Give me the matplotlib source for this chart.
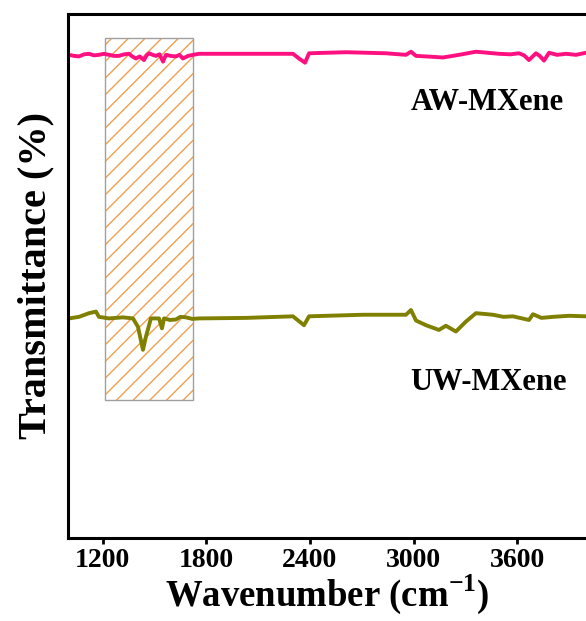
import matplotlib
matplotlib.use("Agg")
import matplotlib.pyplot as plt
from matplotlib.patches import Rectangle

# wavenumber (cm-1) / transmittance (%)
aw_wn = [1006, 1035, 1064, 1093, 1122, 1150, 1179, 1208, 1237, 1266, 1295, 1325, 1353,
         1372, 1393, 1415, 1440, 1455, 1469, 1490, 1509, 1530, 1550, 1567, 1595, 1625,
         1645, 1665, 1695, 1723, 1758, 2030, 2302, 2337, 2372, 2395, 2609, 2840, 2956,
         2985, 3014, 3072, 3170, 3263, 3361, 3494, 3560, 3610, 3640, 3668, 3708, 3730,
         3755, 3784, 3830, 3882, 3940, 3998]
aw_t = [92.2, 92.0, 91.9, 92.3, 92.4, 92.1, 92.2, 92.4, 92.2, 92.0, 92.0, 92.3, 92.4,
        91.9, 91.5, 91.9, 91.2, 92.1, 92.5, 92.2, 92.0, 92.3, 90.9, 92.2, 92.0, 91.9,
        92.2, 91.5, 92.0, 92.2, 92.4, 92.4, 92.4, 91.5, 90.7, 92.5, 92.7, 92.5, 92.2,
        92.8, 92.0, 91.9, 91.7, 92.2, 92.8, 92.4, 92.3, 92.5, 92.1, 91.2, 92.5, 92.0,
        91.1, 92.6, 92.2, 92.4, 92.2, 92.6]

uw_wn = [1006, 1064, 1122, 1162, 1179, 1237, 1318, 1376, 1405, 1434, 1451, 1480, 1527,
         1544, 1556, 1590, 1625, 1650, 1683, 1720, 1758, 2030, 2302, 2366, 2395, 2707,
         2956, 2985, 3014, 3072, 3147, 3187, 3245, 3303, 3361, 3459, 3520, 3575, 3668,
         3691, 3740, 3807, 3900, 3998]
uw_t = [41.9, 42.2, 42.9, 43.2, 42.2, 41.9, 42.1, 41.9, 40.3, 35.9, 38.4, 41.9, 41.9,
        40.0, 41.9, 41.6, 41.7, 42.2, 42.1, 41.8, 41.9, 42.0, 42.3, 40.6, 42.3, 42.6,
        42.6, 43.5, 41.5, 40.6, 39.7, 40.5, 39.4, 41.3, 42.9, 42.6, 42.2, 42.3, 41.6,
        42.7, 42.0, 42.2, 42.4, 42.3]

xticks = [1200, 1800, 2400, 3000, 3600]
box_x = (1212, 1722)
box_y = (26.3, 95.4)

plt.rcParams['font.family'] = ['Liberation Serif', 'DejaVu Serif']
plt.rcParams['font.weight'] = 'bold'
plt.rcParams['hatch.linewidth'] = 1.0
plt.rcParams['axes.unicode_minus'] = False
plt.rcParams['mathtext.fontset'] = 'custom'
plt.rcParams['mathtext.bf'] = 'Liberation Serif:bold'
plt.rcParams['mathtext.rm'] = 'Liberation Serif:bold'

fig = plt.figure(figsize=(5.86, 6.21), dpi=100)
ax = fig.add_axes([0.116, 0.1337, 0.8846, 0.8438])

# hatched region
ax.add_patch(Rectangle((box_x[0], box_y[0]), box_x[1] - box_x[0], box_y[1] - box_y[0],
                       facecolor='none', edgecolor='#F0A050', hatch='//', linewidth=0, zorder=1))
ax.add_patch(Rectangle((box_x[0], box_y[0]), box_x[1] - box_x[0], box_y[1] - box_y[0],
                       facecolor='none', edgecolor='#A0A0A0', linewidth=1.0, zorder=1))

ax.plot(aw_wn, aw_t, color='#FF1080', lw=2.8, zorder=2)
ax.plot(uw_wn, uw_t, color='#808000', lw=2.8, zorder=2)

ax.text(3428, 83.2, 'AW-MXene', fontsize=22, fontweight='bold', ha='center', va='center')
ax.text(3432, 29.6, 'UW-MXene', fontsize=22, fontweight='bold', ha='center', va='center')

ax.set_xlim(1000, 4000)
ax.set_ylim(0, 100)
ax.set_xticks(xticks)
ax.set_yticks([])
ax.tick_params(axis='x', direction='out', length=4, width=2, labelsize=20, pad=3)
for lab in ax.get_xticklabels():
    lab.set_fontweight('bold')
for s in ['left', 'top', 'bottom']:
    ax.spines[s].set_linewidth(2.2)
ax.spines['right'].set_visible(False)

ax.set_xlabel('Wavenumber (cm$^{\\mathbf{-1}}$)', fontsize=26.5, fontweight='bold', labelpad=0)
ax.set_ylabel('Transmittance (%)', fontsize=29, fontweight='bold', labelpad=10)

plt.savefig('out.png', dpi=100)
